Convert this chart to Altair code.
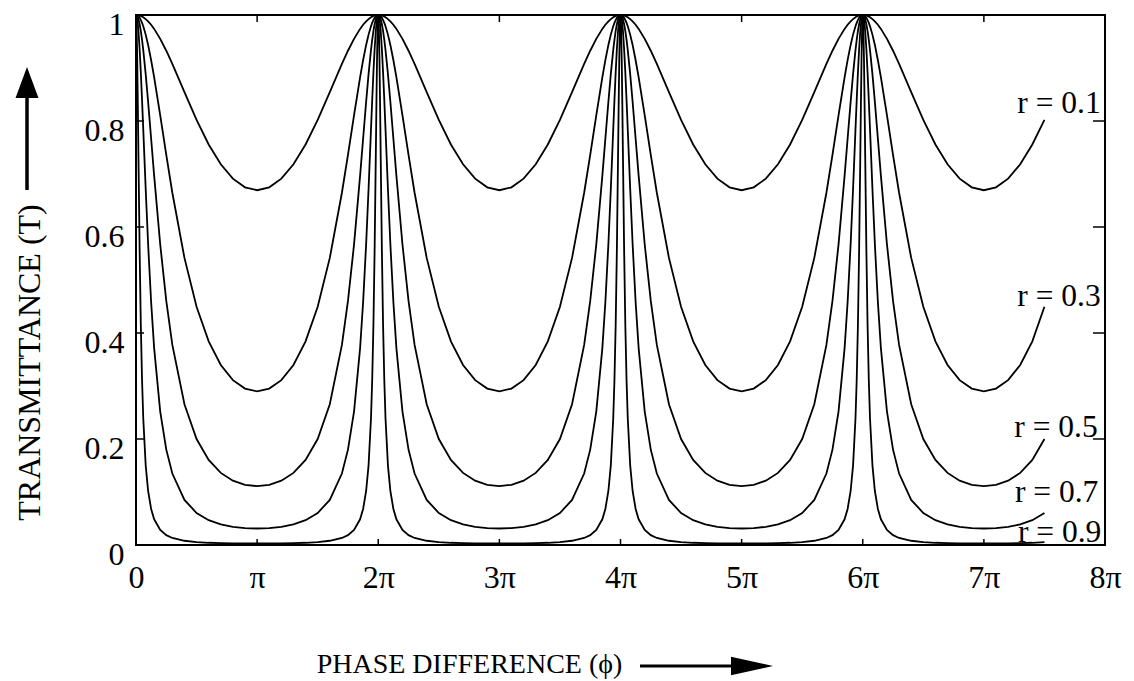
import altair as alt
import pandas as pd

# ---- data ----
# phase offsets from a transmission peak, in units of pi
offsets = [0, 0.005, 0.01, 0.015, 0.02, 0.03, 0.04, 0.05, 0.06, 0.08, 0.1, 0.125,
           0.15, 0.2, 0.25, 0.3, 0.4, 0.5, 0.6, 0.7, 0.8, 0.9, 1.0]
T_r01 = [1.000, 1.000, 0.9999, 0.9997, 0.9995, 0.9989, 0.9981, 0.9970, 0.9957, 0.9923, 0.9881, 0.9816,
         0.9738, 0.9550, 0.9326, 0.9076, 0.8543, 0.8020, 0.7557, 0.7184, 0.6912, 0.6749, 0.6694]
T_r03 = [1.000, 0.9999, 0.9994, 0.9986, 0.9976, 0.9946, 0.9904, 0.9852, 0.9788, 0.9630, 0.9435, 0.9147,
         0.8823, 0.8105, 0.7360, 0.6646, 0.5417, 0.4495, 0.3842, 0.3397, 0.3110, 0.2951, 0.2899]
T_r05 = [1.000, 0.9995, 0.9980, 0.9956, 0.9922, 0.9826, 0.9694, 0.9531, 0.9338, 0.8884, 0.8363, 0.7666,
         0.6964, 0.5669, 0.4605, 0.3775, 0.2657, 0.2000, 0.1604, 0.1360, 0.1214, 0.1136, 0.1111]
T_r07 = [1.000, 0.9981, 0.9924, 0.9830, 0.9702, 0.9354, 0.8907, 0.8393, 0.7840, 0.6717, 0.5678, 0.4579,
         0.3710, 0.2518, 0.1800, 0.1349, 0.0851, 0.0604, 0.0468, 0.0389, 0.0343, 0.0319, 0.0311]
T_r09 = [1.000, 0.9783, 0.9184, 0.8334, 0.7380, 0.5559, 0.4133, 0.3109, 0.2388, 0.1503, 0.1019, 0.0680,
         0.0485, 0.0283, 0.0186, 0.0133, 0.0080, 0.0055, 0.0042, 0.0035, 0.0031, 0.0028, 0.0028]
series_names = ["r = 0.1", "r = 0.3", "r = 0.5", "r = 0.7", "r = 0.9"]
series_T = [T_r01, T_r03, T_r05, T_r07, T_r09]
peaks = [0, 2, 4, 6, 8]          # peak positions (units of pi)
phi_end = 7.5                     # curves end here (units of pi)

label_x = [7.965, 7.965, 7.94, 7.945, 7.97]
label_T = [0.832, 0.468, 0.221, 0.098, 0.023]

x_ticks = [0, 1, 2, 3, 4, 5, 6, 7, 8]
y_ticks = [0, 0.2, 0.4, 0.6, 0.8, 1]
inner_x_ticks = [1, 2, 3, 4, 5, 6, 7]
inner_y_ticks = [0.2, 0.4, 0.6, 0.8]

FONT = "Liberation Serif"
W, H = 969, 530

# ---- build the table (periodic curves as seen in the picture) ----
rows = []
for name, tv in zip(series_names, series_T):
    pts = {}
    for c in peaks:
        for o, t in zip(offsets, tv):
            for s in (-1, 1):
                p = c + s * o
                if 0 <= p <= phi_end:
                    pts[round(p, 5)] = t
    for p in sorted(pts):
        rows.append({"r": name, "phi": p, "T": pts[p]})
df = pd.DataFrame(rows)

xscale = alt.Scale(domain=[0, 8], nice=False, zero=False)
yscale = alt.Scale(domain=[0, 1], nice=False)

x_axis = alt.Axis(values=x_ticks,
                  labelExpr="datum.value == 0 ? '0' : datum.value == 1 ? 'π' : datum.value + 'π'",
                  labelFont=FONT, labelFontSize=32, labelColor="black",
                  ticks=False, tickSize=0, domain=False, grid=False,
                  labelBaseline="alphabetic", labelPadding=42,
                  labelFlush=False, labelOverlap=False,
                  title="PHASE DIFFERENCE (ϕ)", titleFont=FONT, titleFontSize=28,
                  titleFontWeight="normal", titleColor="black",
                  titleX=333, titleY=119, titleAlign="center", titleBaseline="middle")
y_axis = alt.Axis(values=y_ticks,
                  labelExpr="datum.value == 0 ? '0' : datum.value == 1 ? '1' : format(datum.value, '.1f')",
                  labelFont=FONT, labelFontSize=32, labelColor="black",
                  ticks=False, tickSize=0, domain=False, grid=False,
                  labelBaseline="alphabetic", labelOffset=19, labelPadding=12,
                  labelAlign="right", labelFlush=False, labelOverlap=False,
                  title="TRANSMITTANCE (T)", titleFont=FONT, titleFontSize=32,
                  titleFontWeight="normal", titleColor="black", titleAngle=270,
                  titleX=-107, titleY=347, titleAlign="center", titleBaseline="middle")

lines = alt.Chart(df).mark_line(color="black", strokeWidth=1.8, clip=True).encode(
    x=alt.X("phi:Q", scale=xscale, axis=x_axis),
    y=alt.Y("T:Q", scale=yscale, axis=y_axis),
    detail="r:N",
)

df_yt = pd.DataFrame({"t": inner_y_ticks, "x0": [0] * 4, "x8": [8] * 4})
df_xt = pd.DataFrame({"p": inner_x_ticks, "y0": [0] * 7, "y1": [1] * 7})

tick_left = alt.Chart(df_yt).mark_rule(color="black", strokeWidth=1.5, x2Offset=8).encode(
    x=alt.X("x0:Q", scale=xscale, axis=x_axis), x2="x0:Q",
    y=alt.Y("t:Q", scale=yscale, axis=y_axis))
tick_right = alt.Chart(df_yt).mark_rule(color="black", strokeWidth=1.5, x2Offset=-12).encode(
    x=alt.X("x8:Q", scale=xscale, axis=x_axis), x2="x8:Q",
    y=alt.Y("t:Q", scale=yscale, axis=y_axis))
tick_top = alt.Chart(df_xt).mark_rule(color="black", strokeWidth=1.5, y2Offset=7).encode(
    x=alt.X("p:Q", scale=xscale, axis=x_axis),
    y=alt.Y("y1:Q", scale=yscale, axis=y_axis), y2="y1:Q")
tick_bottom = alt.Chart(df_xt).mark_rule(color="black", strokeWidth=1.5, y2Offset=-6).encode(
    x=alt.X("p:Q", scale=xscale, axis=x_axis),
    y=alt.Y("y0:Q", scale=yscale, axis=y_axis), y2="y0:Q")

df_lab = pd.DataFrame({"label": series_names, "lx": label_x, "ly": label_T})
labels = alt.Chart(df_lab).mark_text(font=FONT, fontSize=31.5, align="right", baseline="middle",
                                     color="black").encode(
    x=alt.X("lx:Q", scale=xscale, axis=x_axis),
    y=alt.Y("ly:Q", scale=yscale, axis=y_axis), text="label:N")

one = pd.DataFrame({"a": [0]})
y_shaft = alt.Chart(one).mark_rule(color="black", strokeWidth=3.5).encode(
    x=alt.value(-109), y=alt.value(80), y2=alt.value(175))
y_head = alt.Chart(one).mark_point(shape="M0,-1L0.74,1L-0.74,1Z", filled=True, color="black",
                                   opacity=1, size=961, strokeWidth=0).encode(
    x=alt.value(-109), y=alt.value(67.5))
x_shaft = alt.Chart(one).mark_rule(color="black", strokeWidth=3).encode(
    x=alt.value(504), x2=alt.value(600), y=alt.value(651))
x_head = alt.Chart(one).mark_point(shape="M-1,-0.44L1,0L-1,0.44Z", filled=True, color="black",
                                   opacity=1, size=1764, strokeWidth=0).encode(
    x=alt.value(616), y=alt.value(651))

chart = alt.layer(
    lines, tick_left, tick_right, tick_top, tick_bottom, labels,
    y_shaft, y_head, x_shaft, x_head
).properties(
    width=W, height=H,
    autosize=alt.AutoSizeParams(type="none"),
    padding={"left": 136, "top": 15, "right": 29, "bottom": 136},
    background="white",
).configure_view(
    stroke="black", strokeWidth=2
)

chart.save("out.html", embed_options={"renderer": "svg", "actions": False})
